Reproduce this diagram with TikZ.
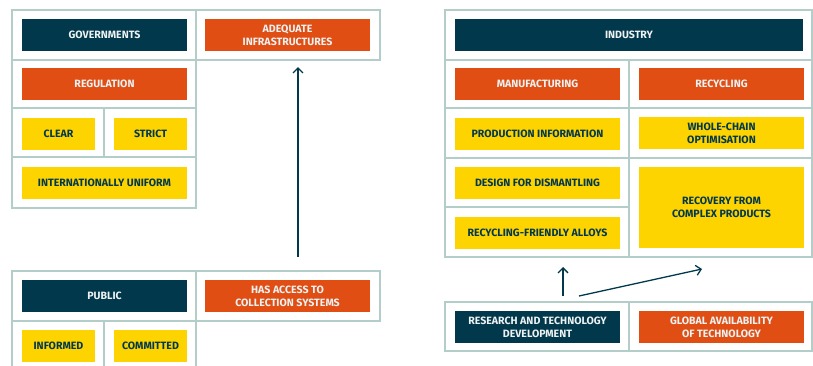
\documentclass[tikz,border=0pt]{standalone}
\usepackage{fontspec}
\setmainfont{Fira Sans}
\usetikzlibrary{arrows.meta}
\definecolor{ChartNavy}{HTML}{02384B}
\definecolor{ChartOrange}{HTML}{E04E14}
\definecolor{ChartYellow}{HTML}{FDD400}
\definecolor{ChartFrame}{HTML}{B3CDC8}
\definecolor{ChartLight}{HTML}{EEF2F3}
\tikzset{
  box/.style={minimum width=165pt, minimum height=32pt, inner sep=0pt, align=center,
    font=\fontsize{10.6}{13}\selectfont\bfseries},
  navybox/.style={box, fill=ChartNavy, text=ChartLight},
  orangebox/.style={box, fill=ChartOrange, text=ChartLight},
  yellowbox/.style={box, fill=ChartYellow, text=ChartNavy},
  halfbox/.style={minimum width=73pt},
  frame/.style={draw=ChartFrame, line width=1.2pt},
  link/.style={draw=ChartNavy, line width=1.3pt, -{Straight Barb[length=5pt,width=10pt]}}
}
\begin{document}
\begin{tikzpicture}[x=1pt, y=-1pt]
    \useasboundingbox (0,0) rectangle (813,365);
    \draw[frame] (12,10) rectangle (380,60);
    \draw[frame] (196,10) -- (196,60);
    \draw[frame] (12,60) rectangle (196,208);
    \draw[frame] (12,108) -- (196,108) (12,157) -- (196,157) (104,108) -- (104,157);
    \draw[frame] (12,271) rectangle (380,321);
    \draw[frame] (196,271) -- (196,370) (12,321) -- (12,370) (104,321) -- (104,370);
    \draw[frame] (445,10) rectangle (812,60);
    \draw[frame] (445,60) rectangle (812,257);
    \draw[frame] (629,60) -- (629,257) (445,108) -- (812,108) (445,158) -- (812,158) (445,207) -- (629,207);
    \draw[frame] (445,302) rectangle (812,351);
    \draw[frame] (629,302) -- (629,351);

    \node[navybox] at (104.5,35) (gov) {GOVERNMENTS};
    \node[orangebox] at (287.5,35) (infra) {ADEQUATE\\INFRASTRUCTURES};
    \node[orangebox] at (104.5,84) (reg) {REGULATION};
    \node[yellowbox, halfbox] at (58.5,134) (clear) {CLEAR};
    \node[yellowbox, halfbox] at (150.5,134) (strict) {STRICT};
    \node[yellowbox] at (104.5,183) (uniform) {INTERNATIONALLY UNIFORM};

    \node[navybox] at (104.5,296) (public) {PUBLIC};
    \node[orangebox] at (287.5,296) (access) {HAS ACCESS TO\\COLLECTION SYSTEMS};
    \node[yellowbox, halfbox] at (58.5,346) (informed) {INFORMED};
    \node[yellowbox, halfbox] at (150.5,346) (committed) {COMMITTED};

    \node[navybox, minimum width=348pt] at (629,35) (industry) {INDUSTRY};
    \node[orangebox] at (537.5,84) (manuf) {MANUFACTURING};
    \node[orangebox] at (721.5,84) (recyc) {RECYCLING};
    \node[yellowbox] at (537.5,134) (prodinfo) {PRODUCTION INFORMATION};
    \node[yellowbox] at (721.5,133) (chain) {WHOLE-CHAIN\\OPTIMISATION};
    \node[yellowbox] at (537.5,183) (design) {DESIGN FOR DISMANTLING};
    \node[yellowbox] at (537.5,233) (alloys) {RECYCLING-FRIENDLY ALLOYS};
    \node[yellowbox, minimum height=81pt] at (721.5,207.5) (recovery) {RECOVERY FROM\\COMPLEX PRODUCTS};

    \node[navybox] at (537.5,327) (rtd) {RESEARCH AND TECHNOLOGY\\DEVELOPMENT};
    \node[orangebox] at (721.5,327) (global) {GLOBAL AVAILABILITY\\OF TECHNOLOGY};

    \coordinate (pubtop) at (298,257);
    \coordinate (infrabot) at (298,67);
    \coordinate (rtdleft) at (563,296);
    \coordinate (rtdright) at (579,296);
    \coordinate (manufbot) at (563,267);
    \coordinate (recycbot) at (702,269);
    \draw[link] (pubtop) -- (infrabot);
    \draw[link] (rtdleft) -- (manufbot);
    \draw[link] (rtdright) -- (recycbot);
\end{tikzpicture}
\end{document}
